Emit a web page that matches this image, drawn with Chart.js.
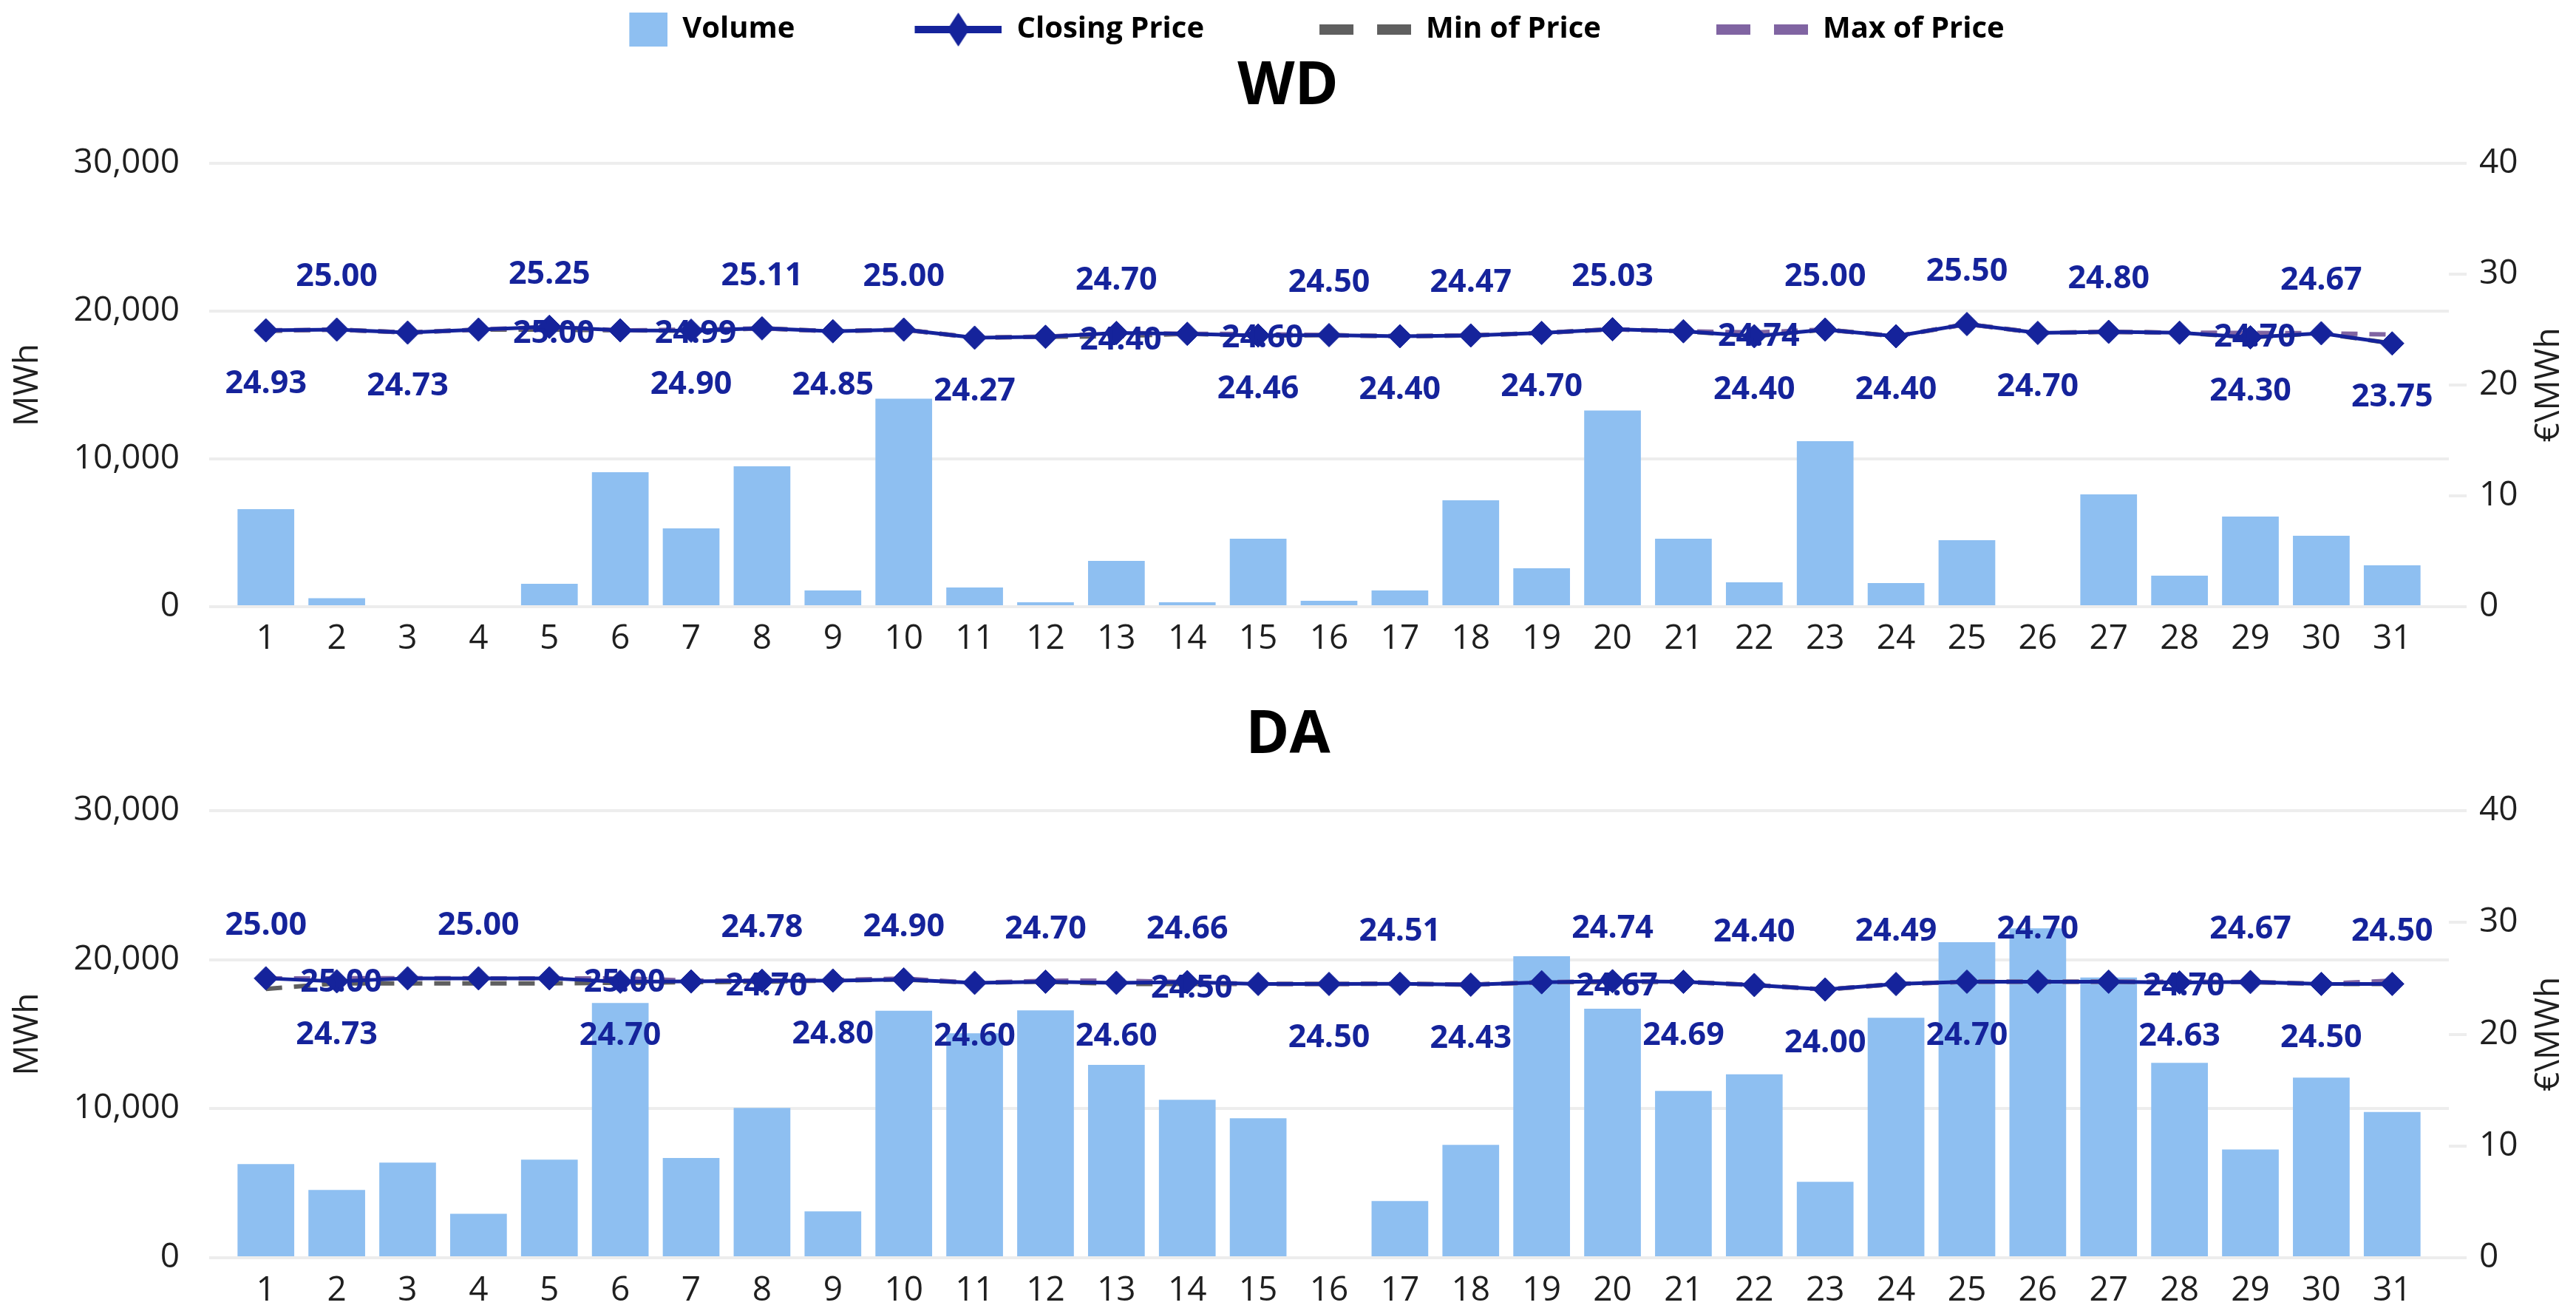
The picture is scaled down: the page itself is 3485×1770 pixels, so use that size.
<!DOCTYPE html>
<html>
<head>
<meta charset="utf-8">
<script src="https://cdn.jsdelivr.net/npm/chart.js@4.4.1/dist/chart.umd.min.js"></script>
<style>
body { margin: 0; background: #fff; }
canvas { display: block; }
</style>
</head>
<body>
<canvas id="wdChart" width="3485" height="900"></canvas>
<canvas id="daChart" width="3485" height="870"></canvas>
<script>
// day of month
const days = [1,2,3,4,5,6,7,8,9,10,11,12,13,14,15,16,17,18,19,20,21,22,23,24,25,26,27,28,29,30,31];

// WD
const wdVolume = [6600,580,0,0,1550,9100,5300,9500,1100,14070,1300,300,3100,300,4600,400,1100,7200,2600,13270,4600,1650,11200,1600,4500,0,7600,2100,6100,4800,2800];
const wdClose = [24.93,25.00,24.73,25.00,25.25,24.93,24.90,25.11,24.85,25.00,24.27,24.35,24.70,24.62,24.46,24.50,24.40,24.47,24.70,25.03,24.85,24.40,25.00,24.40,25.50,24.70,24.80,24.72,24.30,24.67,23.75];
const wdMin = [24.88,25.00,24.73,25.00,25.00,24.93,24.90,25.11,24.85,25.00,24.27,24.35,24.40,24.62,24.46,24.50,24.40,24.47,24.70,25.03,24.85,24.40,25.00,24.40,25.50,24.70,24.80,24.72,24.30,24.67,23.75];
const wdMax = [24.93,25.00,24.73,25.00,25.25,24.93,24.99,25.11,24.85,25.00,24.27,24.35,24.70,24.62,24.60,24.50,24.40,24.47,24.70,25.03,24.85,24.74,25.00,24.40,25.50,24.70,24.80,24.72,24.70,24.67,24.55];
// label position of closing price: a = above, b = below, '' = none
const wdLabelPos = ['b','a','b','','a','','b','a','b','a','b','','a','','b','a','b','a','b','a','','b','a','b','a','b','a','','b','a','b'];
const wdMinLabelDays = [5,13];
const wdMaxLabelDays = [7,15,22,29];

// DA
const daVolume = [6280,4550,6390,2950,6580,17090,6690,10050,3110,16570,15060,16600,12940,10600,9360,0,3800,7570,20230,16710,11200,12310,5100,16100,21170,22100,18800,13080,7270,12090,9780];
const daClose = [25.00,24.73,25.00,25.00,25.00,24.70,24.72,24.78,24.80,24.90,24.60,24.70,24.60,24.66,24.50,24.50,24.51,24.43,24.65,24.74,24.69,24.40,24.00,24.49,24.70,24.70,24.70,24.63,24.67,24.50,24.50];
const daMin = [24.05,24.55,24.55,24.55,24.55,24.60,24.65,24.70,24.80,24.90,24.60,24.70,24.50,24.50,24.50,24.50,24.51,24.43,24.65,24.67,24.69,24.40,24.00,24.49,24.70,24.70,24.70,24.63,24.67,24.50,24.50];
const daMax = [25.00,25.00,25.02,25.00,25.00,25.00,24.80,24.78,24.85,24.98,24.60,24.78,24.80,24.66,24.50,24.50,24.51,24.43,24.65,24.74,24.69,24.40,24.00,24.49,24.70,24.70,24.70,24.70,24.67,24.50,24.80];
const daLabelPos = ['a','b','','a','','b','','a','b','a','b','a','b','a','','b','a','b','','a','b','a','b','a','b','a','','b','a','b','a'];
const daMinLabelDays = [8,14,20];
const daMaxLabelDays = [2,6,28];

// axis ticks
const volumeTicks = { min: 0, max: 30000, step: 10000 };
const priceTicks = { min: 0, max: 40, step: 10 };

const BAR = '#8ebff1';
const NAVY = '#15239b';
const MIN_C = '#5f5f5f';
const MAX_C = '#8064a2';
const GRID = '#ededed';
const TICK = '#1f1f1f';
const FONT = '"Open Sans", "Noto Sans", sans-serif';

function icon(kind, color) {
    const c = document.createElement('canvas');
    c.width = 130; c.height = 46;
    const g = c.getContext('2d');
    g.fillStyle = color;
    if (kind === 'bar') {
        g.fillRect(78, 0, 52, 46);
    } else if (kind === 'close') {
        g.fillRect(12, 18, 118, 10);
        g.beginPath();
        g.moveTo(71, 0); g.lineTo(86, 23); g.lineTo(71, 46); g.lineTo(56, 23);
        g.closePath(); g.fill();
    } else {
        g.fillRect(6, 16, 46, 14);
        g.fillRect(84, 16, 46, 14);
    }
    return c;
}

function priceLabels(close, min, max, pos, minDays, maxDays) {
    return {
        id: 'priceLabels',
        afterDatasetsDraw(chart) {
            const ctx = chart.ctx;
            const closeMeta = chart.getDatasetMeta(1);
            const minMeta = chart.getDatasetMeta(2);
            const maxMeta = chart.getDatasetMeta(3);
            ctx.save();
            ctx.font = 'bold 43px ' + FONT;
            ctx.fillStyle = NAVY;
            ctx.textAlign = 'center';
            ctx.textBaseline = 'middle';
            pos.forEach((p, i) => {
                if (!p) return;
                const pt = closeMeta.data[i];
                ctx.fillText(close[i].toFixed(2), pt.x, p === 'a' ? pt.y - 71 : pt.y + 73);
            });
            minDays.forEach(d => {
                const pt = minMeta.data[d - 1];
                ctx.fillText(min[d - 1].toFixed(2), pt.x + 6, pt.y + 6);
            });
            maxDays.forEach(d => {
                const pt = maxMeta.data[d - 1];
                ctx.fillText(max[d - 1].toFixed(2), pt.x + 6, pt.y + 6);
            });
            // right axis title, reads bottom to top
            const a = chart.chartArea;
            ctx.font = '46px ' + FONT;
            ctx.fillStyle = TICK;
            ctx.translate(3449, (a.top + a.bottom) / 2);
            ctx.rotate(-Math.PI / 2);
            ctx.fillText('€\\MWh', 0, 0);
            ctx.restore();
        }
    };
}

function buildChart(id, title, volume, close, min, max, pos, minDays, maxDays, lay) {
    const pts = arr => days.map((d, i) => ({ x: d, y: arr[i] }));
    return new Chart(document.getElementById(id), {
        type: 'bar',
        data: {
            datasets: [
                { label: 'Volume', data: pts(volume), backgroundColor: BAR, yAxisID: 'y',
                  barPercentage: 0.8, categoryPercentage: 1, order: 4 },
                { type: 'line', label: 'Closing Price', data: pts(close), yAxisID: 'y1',
                  borderColor: NAVY, backgroundColor: NAVY, borderWidth: 5, tension: 0,
                  pointStyle: 'rectRot', pointRadius: 16, pointBorderWidth: 1, order: 1 },
                { type: 'line', label: 'Min of Price', data: pts(min), yAxisID: 'y1',
                  borderColor: MIN_C, borderWidth: 6, borderDash: [22, 16], pointRadius: 0, tension: 0, order: 3 },
                { type: 'line', label: 'Max of Price', data: pts(max), yAxisID: 'y1',
                  borderColor: MAX_C, borderWidth: 6, borderDash: [22, 16], pointRadius: 0, tension: 0, order: 2 }
            ]
        },
        options: {
            responsive: false,
            animation: false,
            devicePixelRatio: 1,
            layout: { padding: { top: lay.top, left: 0, right: 0, bottom: 0 } },
            plugins: {
                tooltip: { enabled: false },
                title: {
                    display: true, text: title, color: '#000', weight: 500,
                    font: { family: FONT, size: 80, weight: 'bold' },
                    padding: { top: lay.titleTop, bottom: lay.titleBottom }
                },
                legend: {
                    display: lay.legend, weight: 3000,
                    labels: {
                        usePointStyle: true, pointStyleWidth: 130, padding: 150, color: '#000',
                        font: { family: FONT, size: 40, weight: 'bold' },
                        generateLabels: () => [
                            { text: 'Volume', pointStyle: icon('bar', BAR), datasetIndex: 0, lineWidth: 0, fontColor: '#000' },
                            { text: 'Closing Price', pointStyle: icon('close', NAVY), datasetIndex: 1, lineWidth: 0, fontColor: '#000' },
                            { text: 'Min of Price', pointStyle: icon('dash', MIN_C), datasetIndex: 2, lineWidth: 0, fontColor: '#000' },
                            { text: 'Max of Price', pointStyle: icon('dash', MAX_C), datasetIndex: 3, lineWidth: 0, fontColor: '#000' }
                        ]
                    }
                }
            },
            scales: {
                x: {
                    type: 'linear', min: 0.2, max: 31.8, offset: false,
                    grid: { display: false, drawTicks: false, offset: false },
                    border: { display: false },
                    ticks: { stepSize: 1, includeBounds: false, autoSkip: false, maxRotation: 0,
                             padding: lay.xPad, color: TICK, font: { family: FONT, size: 46 } },
                    afterFit: s => { s.height = lay.xHeight; }
                },
                y: {
                    position: 'left', min: volumeTicks.min, max: volumeTicks.max,
                    grid: { color: GRID, lineWidth: 4, drawTicks: false },
                    border: { display: false },
                    ticks: { stepSize: volumeTicks.step, padding: 40, color: TICK,
                             font: { family: FONT, size: 46 },
                             callback: v => v.toLocaleString('en-US') },
                    title: { display: true, text: 'MWh', color: TICK,
                             font: { family: FONT, size: 46 }, padding: { top: 10, bottom: 0 } },
                    afterFit: s => { s.width = 283; }
                },
                y1: {
                    position: 'right', min: priceTicks.min, max: priceTicks.max,
                    grid: { color: GRID, lineWidth: 4, drawOnChartArea: false, drawTicks: true, tickLength: 24 },
                    border: { display: false },
                    ticks: { stepSize: priceTicks.step, padding: 17, color: TICK,
                             font: { family: FONT, size: 46 } },
                    afterFit: s => { s.width = 172; }
                }
            }
        },
        plugins: [priceLabels(close, min, max, pos, minDays, maxDays)]
    });
}

buildChart('wdChart', 'WD', wdVolume, wdClose, wdMin, wdMax, wdLabelPos, wdMinLabelDays, wdMaxLabelDays,
    { top: -130, titleTop: 0, titleBottom: 55, legend: true, xPad: 16, xHeight: 79 });
buildChart('daChart', 'DA', daVolume, daClose, daMin, daMax, daLabelPos, daMinLabelDays, daMaxLabelDays,
    { top: 0, titleTop: 48, titleBottom: 53, legend: false, xPad: 17, xHeight: 68 });
</script>
</body>
</html>
